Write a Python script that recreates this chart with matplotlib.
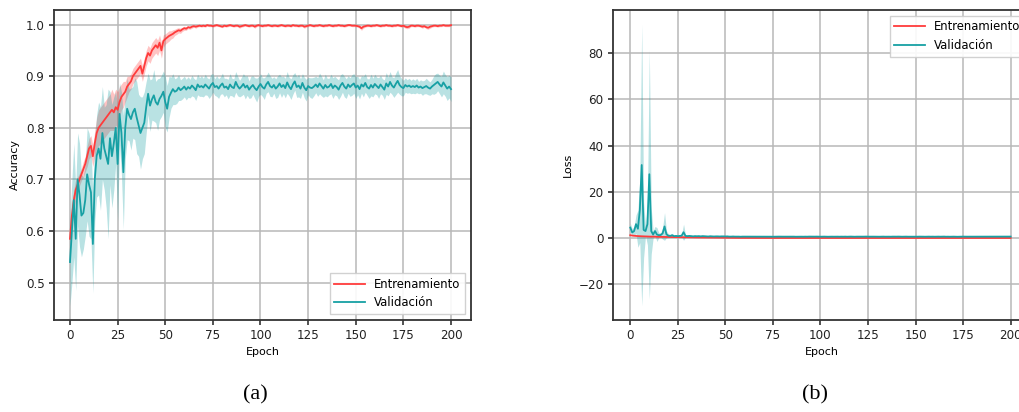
import numpy as np
import matplotlib
matplotlib.use("Agg")
import matplotlib.pyplot as plt

# ---- training history (mean and spread across runs) ----
epochs = np.arange(201)

train_acc = [
    0.585, 0.630, 0.660, 0.680, 0.690, 0.700, 0.710, 0.720, 0.730, 0.745,
    0.760, 0.765, 0.745, 0.770, 0.790, 0.800, 0.805, 0.810, 0.815, 0.820,
    0.825, 0.830, 0.835, 0.830, 0.840, 0.835, 0.850, 0.860, 0.865, 0.870,
    0.880, 0.885, 0.890, 0.900, 0.905, 0.910, 0.915, 0.920, 0.905, 0.920,
    0.935, 0.945, 0.940, 0.950, 0.955, 0.960, 0.955, 0.965, 0.950, 0.968,
    0.972, 0.975, 0.978, 0.980, 0.982, 0.985, 0.987, 0.989, 0.988, 0.991,
    0.993, 0.992, 0.995, 0.994, 0.996, 0.997, 0.996, 0.997, 0.998, 0.997,
    0.998, 0.997, 0.999, 0.998, 0.998, 0.997, 0.998, 0.999, 0.998, 0.997,
    0.996, 0.998, 0.997, 0.998, 0.999, 0.998, 0.997, 0.998, 0.998, 0.996,
    0.997, 0.998, 0.999, 0.998, 0.997, 0.998, 0.998, 0.996, 0.998, 0.999,
    0.998, 0.997, 0.998, 0.998, 0.999, 0.998, 0.997, 0.998, 0.998, 0.997,
    0.998, 0.999, 0.998, 0.997, 0.998, 0.998, 0.997, 0.999, 0.998, 0.998,
    0.997, 0.998, 0.998, 0.996, 0.997, 0.998, 0.999, 0.998, 0.997, 0.998,
    0.998, 0.999, 0.998, 0.997, 0.998, 0.998, 0.999, 0.998, 0.997, 0.998,
    0.998, 0.999, 0.998, 0.998, 0.997, 0.998, 0.999, 0.999, 0.998, 0.998,
    0.998, 0.997, 0.996, 0.993, 0.996, 0.997, 0.998, 0.998, 0.997, 0.998,
    0.998, 0.999, 0.998, 0.997, 0.998, 0.998, 0.999, 0.998, 0.998, 0.997,
    0.998, 0.998, 0.999, 0.998, 0.997, 0.998, 0.996, 0.995, 0.996, 0.998,
    0.998, 0.997, 0.998, 0.998, 0.997, 0.996, 0.997, 0.995, 0.994, 0.996,
    0.997, 0.998, 0.998, 0.997, 0.998, 0.998, 0.999, 0.998, 0.998, 0.998,
    0.999,
]

train_acc_std = [
    0.010, 0.020, 0.020, 0.020, 0.015, 0.012, 0.012, 0.015, 0.015, 0.020,
    0.020, 0.020, 0.020, 0.025, 0.030, 0.035, 0.035, 0.035, 0.035, 0.035,
    0.035, 0.035, 0.040, 0.035, 0.035, 0.035, 0.030, 0.025, 0.025, 0.020,
    0.020, 0.015, 0.015, 0.015, 0.015, 0.015, 0.015, 0.015, 0.015, 0.015,
    0.015, 0.015, 0.015, 0.015, 0.015, 0.015, 0.015, 0.015, 0.015, 0.012,
    0.010, 0.010, 0.010, 0.008, 0.008, 0.006, 0.006, 0.005, 0.005, 0.004,
    0.004, 0.003, 0.003, 0.003, 0.003, 0.002, 0.003, 0.002, 0.002, 0.002,
    0.002, 0.002, 0.002, 0.002, 0.002, 0.002, 0.002, 0.002, 0.002, 0.002,
    0.002, 0.002, 0.002, 0.002, 0.002, 0.002, 0.002, 0.002, 0.002, 0.003,
    0.002, 0.002, 0.002, 0.002, 0.002, 0.002, 0.002, 0.003, 0.002, 0.002,
    0.002, 0.002, 0.002, 0.002, 0.002, 0.002, 0.002, 0.002, 0.002, 0.002,
    0.002, 0.002, 0.002, 0.002, 0.002, 0.002, 0.002, 0.002, 0.002, 0.002,
    0.002, 0.002, 0.002, 0.003, 0.002, 0.002, 0.002, 0.002, 0.002, 0.002,
    0.002, 0.002, 0.002, 0.002, 0.002, 0.002, 0.002, 0.002, 0.002, 0.002,
    0.002, 0.002, 0.002, 0.002, 0.002, 0.002, 0.002, 0.002, 0.002, 0.002,
    0.002, 0.002, 0.003, 0.004, 0.003, 0.002, 0.002, 0.002, 0.002, 0.002,
    0.002, 0.002, 0.002, 0.002, 0.002, 0.002, 0.002, 0.002, 0.002, 0.002,
    0.002, 0.002, 0.002, 0.002, 0.002, 0.002, 0.003, 0.003, 0.003, 0.002,
    0.002, 0.002, 0.002, 0.002, 0.002, 0.003, 0.002, 0.003, 0.003, 0.003,
    0.002, 0.002, 0.002, 0.002, 0.002, 0.002, 0.002, 0.002, 0.002, 0.002,
    0.002,
]

val_acc = [
    0.540, 0.600, 0.660, 0.585, 0.700, 0.670, 0.630, 0.635, 0.660, 0.710,
    0.690, 0.675, 0.575, 0.700, 0.746, 0.760, 0.740, 0.790, 0.760, 0.745,
    0.730, 0.780, 0.745, 0.770, 0.800, 0.730, 0.827, 0.790, 0.714, 0.800,
    0.837, 0.825, 0.817, 0.830, 0.837, 0.820, 0.805, 0.790, 0.800, 0.810,
    0.840, 0.866, 0.843, 0.855, 0.863, 0.850, 0.845, 0.856, 0.862, 0.870,
    0.850, 0.837, 0.860, 0.868, 0.875, 0.870, 0.872, 0.878, 0.873, 0.876,
    0.880, 0.874, 0.879, 0.876, 0.882, 0.878, 0.873, 0.884, 0.879, 0.881,
    0.878, 0.884, 0.880, 0.876, 0.883, 0.887, 0.879, 0.881, 0.876, 0.882,
    0.886, 0.878, 0.880, 0.875, 0.884, 0.879, 0.877, 0.889, 0.881, 0.876,
    0.880, 0.885, 0.878, 0.882, 0.874, 0.879, 0.883, 0.877, 0.873, 0.880,
    0.885, 0.879, 0.876, 0.884, 0.889, 0.881, 0.878, 0.883, 0.876, 0.880,
    0.886, 0.879, 0.883, 0.877, 0.888, 0.880, 0.875, 0.884, 0.890, 0.879,
    0.882, 0.876, 0.887, 0.878, 0.873, 0.881, 0.878, 0.877, 0.880, 0.884,
    0.879, 0.886, 0.881, 0.876, 0.883, 0.878, 0.880, 0.885, 0.877, 0.882,
    0.879, 0.874, 0.882, 0.887, 0.880, 0.876, 0.884, 0.879, 0.883, 0.886,
    0.878, 0.882, 0.875, 0.884, 0.880, 0.887, 0.879, 0.876, 0.883, 0.878,
    0.885, 0.881, 0.877, 0.884, 0.879, 0.874, 0.886, 0.880, 0.889, 0.882,
    0.878, 0.885, 0.891, 0.883, 0.879, 0.877, 0.883, 0.880, 0.882, 0.879,
    0.881, 0.879, 0.882, 0.878, 0.880, 0.877, 0.879, 0.881, 0.878, 0.876,
    0.880, 0.883, 0.886, 0.889, 0.884, 0.880, 0.888, 0.882, 0.876, 0.880,
    0.875,
]

val_acc_std = [
    0.085, 0.100, 0.110, 0.100, 0.090, 0.100, 0.080, 0.070, 0.070, 0.090,
    0.100, 0.090, 0.095, 0.080, 0.080, 0.090, 0.100, 0.090, 0.080, 0.100,
    0.145, 0.090, 0.100, 0.090, 0.070, 0.110, 0.060, 0.080, 0.110, 0.060,
    0.060, 0.050, 0.060, 0.050, 0.060, 0.070, 0.060, 0.070, 0.060, 0.060,
    0.050, 0.040, 0.050, 0.040, 0.050, 0.040, 0.050, 0.040, 0.040, 0.040,
    0.050, 0.045, 0.040, 0.030, 0.030, 0.025, 0.025, 0.025, 0.020, 0.020,
    0.020, 0.020, 0.020, 0.018, 0.020, 0.018, 0.020, 0.020, 0.018, 0.020,
    0.018, 0.020, 0.017, 0.019, 0.021, 0.018, 0.016, 0.020, 0.019, 0.017,
    0.020, 0.018, 0.016, 0.019, 0.021, 0.017, 0.018, 0.020, 0.019, 0.016,
    0.018, 0.020, 0.022, 0.019, 0.017, 0.021, 0.018, 0.020, 0.023, 0.019,
    0.020, 0.018, 0.021, 0.017, 0.019, 0.020, 0.018, 0.016, 0.019, 0.021,
    0.018, 0.020, 0.017, 0.019, 0.021, 0.018, 0.020, 0.019, 0.017, 0.020,
    0.022, 0.019, 0.018, 0.020, 0.021, 0.017, 0.019, 0.020, 0.018, 0.016,
    0.018, 0.020, 0.019, 0.017, 0.021, 0.018, 0.016, 0.019, 0.020, 0.018,
    0.017, 0.019, 0.021, 0.018, 0.020, 0.019, 0.017, 0.018, 0.020, 0.019,
    0.021, 0.018, 0.019, 0.017, 0.020, 0.018, 0.016, 0.019, 0.021, 0.018,
    0.019, 0.017, 0.020, 0.018, 0.016, 0.019, 0.021, 0.018, 0.020, 0.017,
    0.019, 0.021, 0.022, 0.018, 0.017, 0.015, 0.014, 0.013, 0.014, 0.013,
    0.014, 0.013, 0.014, 0.012, 0.013, 0.014, 0.013, 0.015, 0.014, 0.013,
    0.014, 0.018, 0.019, 0.017, 0.018, 0.020, 0.022, 0.021, 0.023, 0.022,
    0.024,
]

train_loss = [
    1.20, 1.05, 0.95, 0.88, 0.82, 0.78, 0.74, 0.70, 0.67, 0.63,
    0.60, 0.58, 0.62, 0.56, 0.52, 0.50, 0.48, 0.46, 0.45, 0.43,
    0.42, 0.41, 0.40, 0.40, 0.38, 0.38, 0.36, 0.34, 0.33, 0.31,
    0.29, 0.28, 0.26, 0.25, 0.23, 0.22, 0.21, 0.20, 0.21, 0.18,
    0.16, 0.15, 0.15, 0.13, 0.12, 0.11, 0.11, 0.10, 0.11, 0.09,
    0.08, 0.07, 0.065, 0.06, 0.05, 0.045, 0.04, 0.035, 0.035, 0.03,
    0.025, 0.025, 0.02, 0.02, 0.015, 0.012, 0.012, 0.01, 0.009, 0.01,
    0.009, 0.008, 0.009, 0.008, 0.007, 0.008, 0.008, 0.007, 0.007, 0.008,
    0.007, 0.007, 0.006, 0.007, 0.007, 0.006, 0.007, 0.006, 0.006, 0.007,
    0.006, 0.006, 0.005, 0.006, 0.006, 0.005, 0.006, 0.006, 0.005, 0.005,
    0.006, 0.005, 0.005, 0.005, 0.004, 0.005, 0.005, 0.005, 0.004, 0.005,
    0.005, 0.004, 0.005, 0.004, 0.004, 0.005, 0.004, 0.004, 0.004, 0.005,
    0.004, 0.004, 0.004, 0.005, 0.004, 0.004, 0.003, 0.004, 0.004, 0.004,
    0.004, 0.003, 0.004, 0.004, 0.003, 0.004, 0.003, 0.003, 0.004, 0.003,
    0.003, 0.004, 0.003, 0.003, 0.003, 0.004, 0.003, 0.003, 0.003, 0.003,
    0.003, 0.004, 0.005, 0.009, 0.006, 0.004, 0.003, 0.003, 0.004, 0.003,
    0.003, 0.003, 0.003, 0.004, 0.003, 0.003, 0.003, 0.003, 0.003, 0.004,
    0.003, 0.003, 0.003, 0.003, 0.004, 0.003, 0.005, 0.006, 0.005, 0.003,
    0.003, 0.004, 0.003, 0.003, 0.004, 0.005, 0.004, 0.006, 0.007, 0.005,
    0.004, 0.003, 0.003, 0.004, 0.003, 0.003, 0.003, 0.003, 0.003, 0.003,
    0.003,
]

val_loss = [
    4.5, 2.4, 3.0, 6.0, 4.0, 12.0, 31.6, 3.5, 3.0, 6.0,
    27.6, 3.0, 1.5, 3.0, 1.5, 1.2, 1.3, 2.0, 5.0, 1.6,
    1.0, 0.9, 1.2, 0.8, 0.9, 0.8, 0.9, 1.0, 2.5, 0.9,
    0.8, 0.9, 0.8, 0.7, 0.8, 0.75, 0.8, 0.7, 0.8, 0.75,
    0.7, 0.65, 0.75, 0.7, 0.65, 0.7, 0.7, 0.65, 0.7, 0.7,
    0.65, 0.7, 0.6, 0.6, 0.65, 0.6, 0.6, 0.6, 0.55, 0.6,
    0.60, 0.62, 0.58, 0.59, 0.57, 0.60, 0.61, 0.57, 0.58, 0.59,
    0.58, 0.56, 0.59, 0.60, 0.57, 0.55, 0.58, 0.57, 0.60, 0.58,
    0.56, 0.58, 0.59, 0.61, 0.57, 0.58, 0.59, 0.55, 0.57, 0.60,
    0.58, 0.56, 0.59, 0.57, 0.61, 0.59, 0.57, 0.59, 0.61, 0.58,
    0.56, 0.58, 0.60, 0.57, 0.55, 0.58, 0.59, 0.57, 0.60, 0.59,
    0.56, 0.59, 0.57, 0.60, 0.56, 0.58, 0.61, 0.57, 0.55, 0.59,
    0.58, 0.60, 0.56, 0.59, 0.62, 0.58, 0.59, 0.60, 0.59, 0.57,
    0.59, 0.56, 0.58, 0.60, 0.57, 0.59, 0.58, 0.56, 0.60, 0.58,
    0.59, 0.61, 0.58, 0.56, 0.58, 0.60, 0.57, 0.59, 0.57, 0.56,
    0.59, 0.57, 0.60, 0.57, 0.58, 0.56, 0.59, 0.60, 0.57, 0.59,
    0.56, 0.58, 0.60, 0.57, 0.59, 0.61, 0.56, 0.58, 0.55, 0.57,
    0.59, 0.56, 0.54, 0.57, 0.59, 0.60, 0.57, 0.58, 0.58, 0.59,
    0.58, 0.59, 0.58, 0.59, 0.58, 0.60, 0.59, 0.58, 0.59, 0.60,
    0.59, 0.57, 0.56, 0.55, 0.57, 0.58, 0.55, 0.57, 0.60, 0.59,
    0.61,
]

val_loss_std = [
    2.0, 1.5, 2.0, 4.0, 8.0, 14.0, 61.0, 12.0, 2.0, 9.0,
    54.0, 10.0, 1.5, 2.0, 3.0, 1.0, 1.0, 2.5, 6.0, 1.5,
    0.8, 0.6, 0.8, 0.5, 0.6, 0.5, 0.6, 0.6, 3.5, 0.6,
    0.50, 0.45, 0.50, 0.40, 0.45, 0.40, 0.45, 0.40, 0.45, 0.40,
    0.40, 0.35, 0.40, 0.35, 0.35, 0.40, 0.35, 0.35, 0.30, 0.35,
    0.30, 0.30, 0.25, 0.25, 0.20, 0.20, 0.18, 0.15, 0.15, 0.15,
    0.12, 0.12, 0.13, 0.12, 0.11, 0.12, 0.12, 0.11, 0.12, 0.11,
    0.10, 0.11, 0.10, 0.12, 0.10, 0.11, 0.10, 0.10, 0.11, 0.10,
    0.10, 0.11, 0.10, 0.10, 0.12, 0.10, 0.11, 0.10, 0.10, 0.11,
    0.10, 0.10, 0.11, 0.10, 0.12, 0.10, 0.10, 0.11, 0.10, 0.10,
    0.11, 0.10, 0.10, 0.11, 0.10, 0.12, 0.10, 0.10, 0.11, 0.10,
    0.10, 0.11, 0.10, 0.10, 0.11, 0.10, 0.12, 0.10, 0.10, 0.11,
    0.10, 0.10, 0.11, 0.10, 0.12, 0.10, 0.11, 0.10, 0.10, 0.11,
    0.10, 0.11, 0.10, 0.10, 0.11, 0.10, 0.10, 0.12, 0.10, 0.11,
    0.10, 0.10, 0.11, 0.10, 0.10, 0.11, 0.10, 0.10, 0.12, 0.10,
    0.11, 0.10, 0.10, 0.11, 0.10, 0.10, 0.11, 0.10, 0.12, 0.10,
    0.10, 0.11, 0.10, 0.10, 0.11, 0.10, 0.12, 0.10, 0.10, 0.11,
    0.10, 0.10, 0.11, 0.10, 0.12, 0.10, 0.10, 0.11, 0.10, 0.10,
    0.11, 0.10, 0.10, 0.11, 0.10, 0.12, 0.10, 0.10, 0.11, 0.10,
    0.10, 0.11, 0.10, 0.10, 0.12, 0.10, 0.11, 0.10, 0.10, 0.11,
    0.10,
]

series_labels = ["Entrenamiento", "Validación"]
panel_captions = ["(a)", "(b)"]

RED = "#ff3b3b"
TEAL = "#17a0a4"

plt.rcParams.update({
    "font.family": "DejaVu Sans",
    "font.size": 8,
    "axes.edgecolor": "#333333",
    "axes.linewidth": 1.3,
    "grid.color": "#b8b8b8",
    "grid.linewidth": 1.1,
    "xtick.color": "#222222",
    "ytick.color": "#222222",
    "xtick.labelsize": 8.6,
    "ytick.labelsize": 8.6,
    "xtick.major.width": 1.1,
    "ytick.major.width": 1.1,
    "xtick.major.size": 3.3,
    "ytick.major.size": 3.3,
})

fig = plt.figure(figsize=(10.2, 4.12), dpi=100)
W, H = 1020, 412
ax1 = fig.add_axes([54 / W, 92 / H, 417 / W, 310 / H])
ax2 = fig.add_axes([613 / W, 92 / H, 418 / W, 310 / H])


def draw(ax, tr, tr_sd, va, va_sd, ylabel, legend_loc):
    tr = np.asarray(tr)
    va = np.asarray(va)
    if tr_sd is not None:
        tr_sd = np.asarray(tr_sd)
        ax.fill_between(epochs, tr - tr_sd, tr + tr_sd, color=RED, alpha=0.3, lw=0)
    va_sd = np.asarray(va_sd)
    ax.fill_between(epochs, va - va_sd, va + va_sd, color=TEAL, alpha=0.3, lw=0)
    ax.plot(epochs, tr, color=RED, lw=1.3, label=series_labels[0])
    ax.plot(epochs, va, color=TEAL, lw=1.3, label=series_labels[1])
    ax.grid(True)
    ax.set_axisbelow(True)
    ax.set_xticks([0, 25, 50, 75, 100, 125, 150, 175, 200])
    ax.set_xlabel("Epoch", labelpad=3)
    ax.set_ylabel(ylabel)
    ax.legend(loc=legend_loc, fontsize=8.4, fancybox=False, framealpha=0.9,
              edgecolor="#cccccc", handlelength=2.6)


draw(ax1, train_acc, train_acc_std, val_acc, val_acc_std, "Accuracy", "lower right")
ax1.set_xlim(-8.4, 210.5)
ax1.set_yticks([0.5, 0.6, 0.7, 0.8, 0.9, 1.0])

draw(ax2, train_loss, None, val_loss, val_loss_std, "Loss", "upper right")
ax2.set_xlim(-9.1, 210.7)
ax2.set_yticks([-20, 0, 20, 40, 60, 80])
ax2.set_yticklabels(["\u221220", "0", "20", "40", "60", "80"])

fig.text(255 / W, 1 - 395 / H, panel_captions[0], ha="center", va="center",
         family="Liberation Serif", fontsize=16)
fig.text(815 / W, 1 - 395 / H, panel_captions[1], ha="center", va="center",
         family="Liberation Serif", fontsize=16)

fig.savefig("out.png", dpi=100)
